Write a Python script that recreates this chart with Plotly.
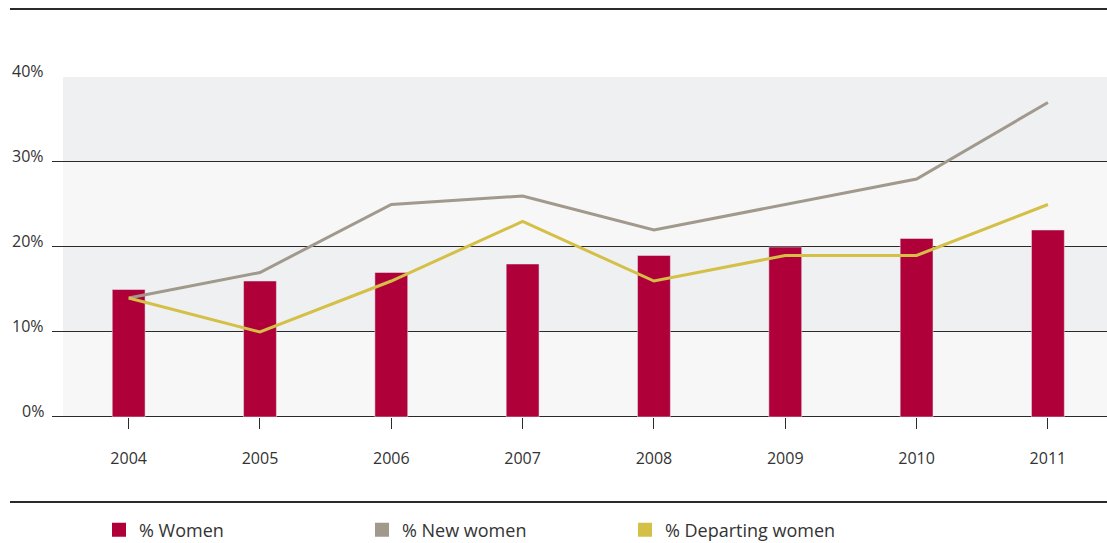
import plotly.graph_objects as go

years = ["2004", "2005", "2006", "2007", "2008", "2009", "2010", "2011"]
women = [15, 16, 17, 18, 19, 20, 21, 22]
new_women = [14, 17, 25, 26, 22, 25, 28, 37]
departing = [14, 10, 16, 23, 16, 19, 19, 25]
y_ticks = [0, 10, 20, 30, 40]
y_tick_labels = ["0%", "10%", "20%", "30%", "40%"]

C_BAR = "#b0003a"
C_NEW = "#a0998c"
C_DEP = "#d4bf47"
C_LINE = "#2a2a2a"
FONT = "Open Sans"

W, H = 1107, 543
L, R, T, B = 63, 0, 77, 126
pw = W - L - R
ph = H - T - B
Y_MAX = 40
half_px = 0.5 * Y_MAX / ph

def px_x(p):
    return (p - L) / pw

def px_y(p):
    return (H - B - p) / ph

fig = go.Figure()
fig.add_trace(go.Bar(x=years, y=women, marker_color=C_BAR, width=0.25,
                     name="% Women", showlegend=False))
fig.add_trace(go.Scatter(x=years, y=new_women, mode="lines",
                         line=dict(color=C_NEW, width=3), showlegend=False))
fig.add_trace(go.Scatter(x=years, y=departing, mode="lines",
                         line=dict(color=C_DEP, width=3), showlegend=False))
# legend proxies (square swatches)
for name, col in (("% Women", C_BAR), ("% New women", C_NEW), ("% Departing women", C_DEP)):
    fig.add_trace(go.Scatter(x=[None], y=[None], mode="markers", name=name,
                             marker=dict(symbol="square", size=14, color=col,
                                         line=dict(width=0))))

shapes = []
band_colors = ["#f7f7f7", "#eff0f2", "#f7f7f7", "#eff0f2"]
for i in range(len(y_ticks) - 1):
    shapes.append(dict(type="rect", xref="paper", yref="y", x0=0, x1=1,
                       y0=y_ticks[i], y1=y_ticks[i + 1], fillcolor=band_colors[i],
                       line_width=0, layer="below"))
for v in y_ticks:
    shapes.append(dict(type="line", xref="paper", yref="y", x0=px_x(52), x1=1,
                       y0=v + half_px, y1=v + half_px,
                       line=dict(color=C_LINE, width=1), layer="between"))
for yp in (9, 502):
    shapes.append(dict(type="line", xref="paper", yref="paper", x0=px_x(10), x1=1.01,
                       y0=px_y(yp), y1=px_y(yp), line=dict(color=C_LINE, width=2)))

annotations = []
for v, lab in zip(y_ticks, y_tick_labels):
    annotations.append(dict(xref="paper", yref="y", x=px_x(46), y=v, text=lab,
                            showarrow=False, xanchor="right", yanchor="bottom",
                            yshift=-7, font=dict(family=FONT, size=16, color="#333333")))

fig.update_layout(
    width=W, height=H,
    margin=dict(l=L, r=R, t=T, b=B, autoexpand=False),
    plot_bgcolor="white", paper_bgcolor="white",
    barmode="overlay",
    shapes=shapes, annotations=annotations,
    font=dict(family=FONT, color="#333333"),
    xaxis=dict(range=[-0.5, 7.45], showgrid=False, zeroline=False,
               ticks="outside", ticklen=11, tickcolor=C_LINE, tickwidth=1,
               tickfont=dict(family=FONT, size=16, color="#333333"),
               ticklabelstandoff=16, showline=False, fixedrange=True),
    yaxis=dict(range=[0, Y_MAX], showgrid=False, zeroline=False,
               showticklabels=False, showline=False, fixedrange=True),
    legend=dict(orientation="h", x=px_x(99), y=px_y(530), yanchor="middle",
                xanchor="left", entrywidth=218, entrywidthmode="pixels",
                font=dict(family=FONT, size=18, color="#333333"),
                bgcolor="rgba(0,0,0,0)", traceorder="normal"),
)

fig.write_html("out.html", config={"displayModeBar": False},
               post_script="document.body.style.margin='0';document.body.style.overflow='hidden';")
